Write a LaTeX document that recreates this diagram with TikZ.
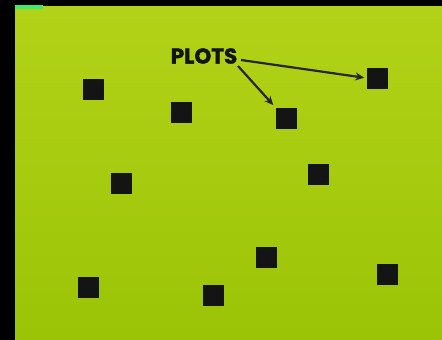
\documentclass[tikz,border=0pt]{standalone}
\usepackage{fontspec}
\newfontfamily\plotfont[BoldFeatures={FakeBold=1.6}]{Poppins}
\usetikzlibrary{arrows.meta}
\definecolor{fieldtop}{RGB}{178,210,24}
\definecolor{fieldbot}{RGB}{155,196,6}
\definecolor{barcol}{RGB}{60,235,110}
\tikzset{
  plot/.style={fill=black!92, minimum size=21pt, inner sep=0pt, draw=none},
  label/.style={font=\plotfont\bfseries\fontsize{21.5}{22}\selectfont, inner sep=0pt, text=black!92},
  pointer/.style={-{Stealth[length=9pt,width=8pt]}, line width=2.2pt, draw=black!85}
}
\begin{document}
\begin{tikzpicture}[x=1pt,y=-1pt]
\useasboundingbox (0,0) rectangle (442,340);
\fill[black] (0,0) rectangle (442,340);
\shade[top color=fieldtop, bottom color=fieldbot] (15,6) rectangle (442,340);
\fill[barcol] (15,5) rectangle (43,9);
\node[plot] (s1) at (93,89) {};
\node[plot] (s2) at (181,112) {};
\node[plot] (s3) at (286,118) {};
\node[plot] (s4) at (377,78) {};
\node[plot] (s5) at (121,183) {};
\node[plot] (s6) at (318,174) {};
\node[plot] (s7) at (266,257) {};
\node[plot] (s8) at (387,274) {};
\node[plot] (s9) at (88,287) {};
\node[plot] (s10) at (213,295) {};
\node[label] (plots) at (204,56) {PLOTS};
\coordinate (a1) at (241,60);
\coordinate (a2) at (238,66);
\draw[pointer, shorten >=2pt] (a1) -- (s4.west);
\draw[pointer, shorten >=3pt] (a2) -- (s3.north west);
\end{tikzpicture}
\end{document}
